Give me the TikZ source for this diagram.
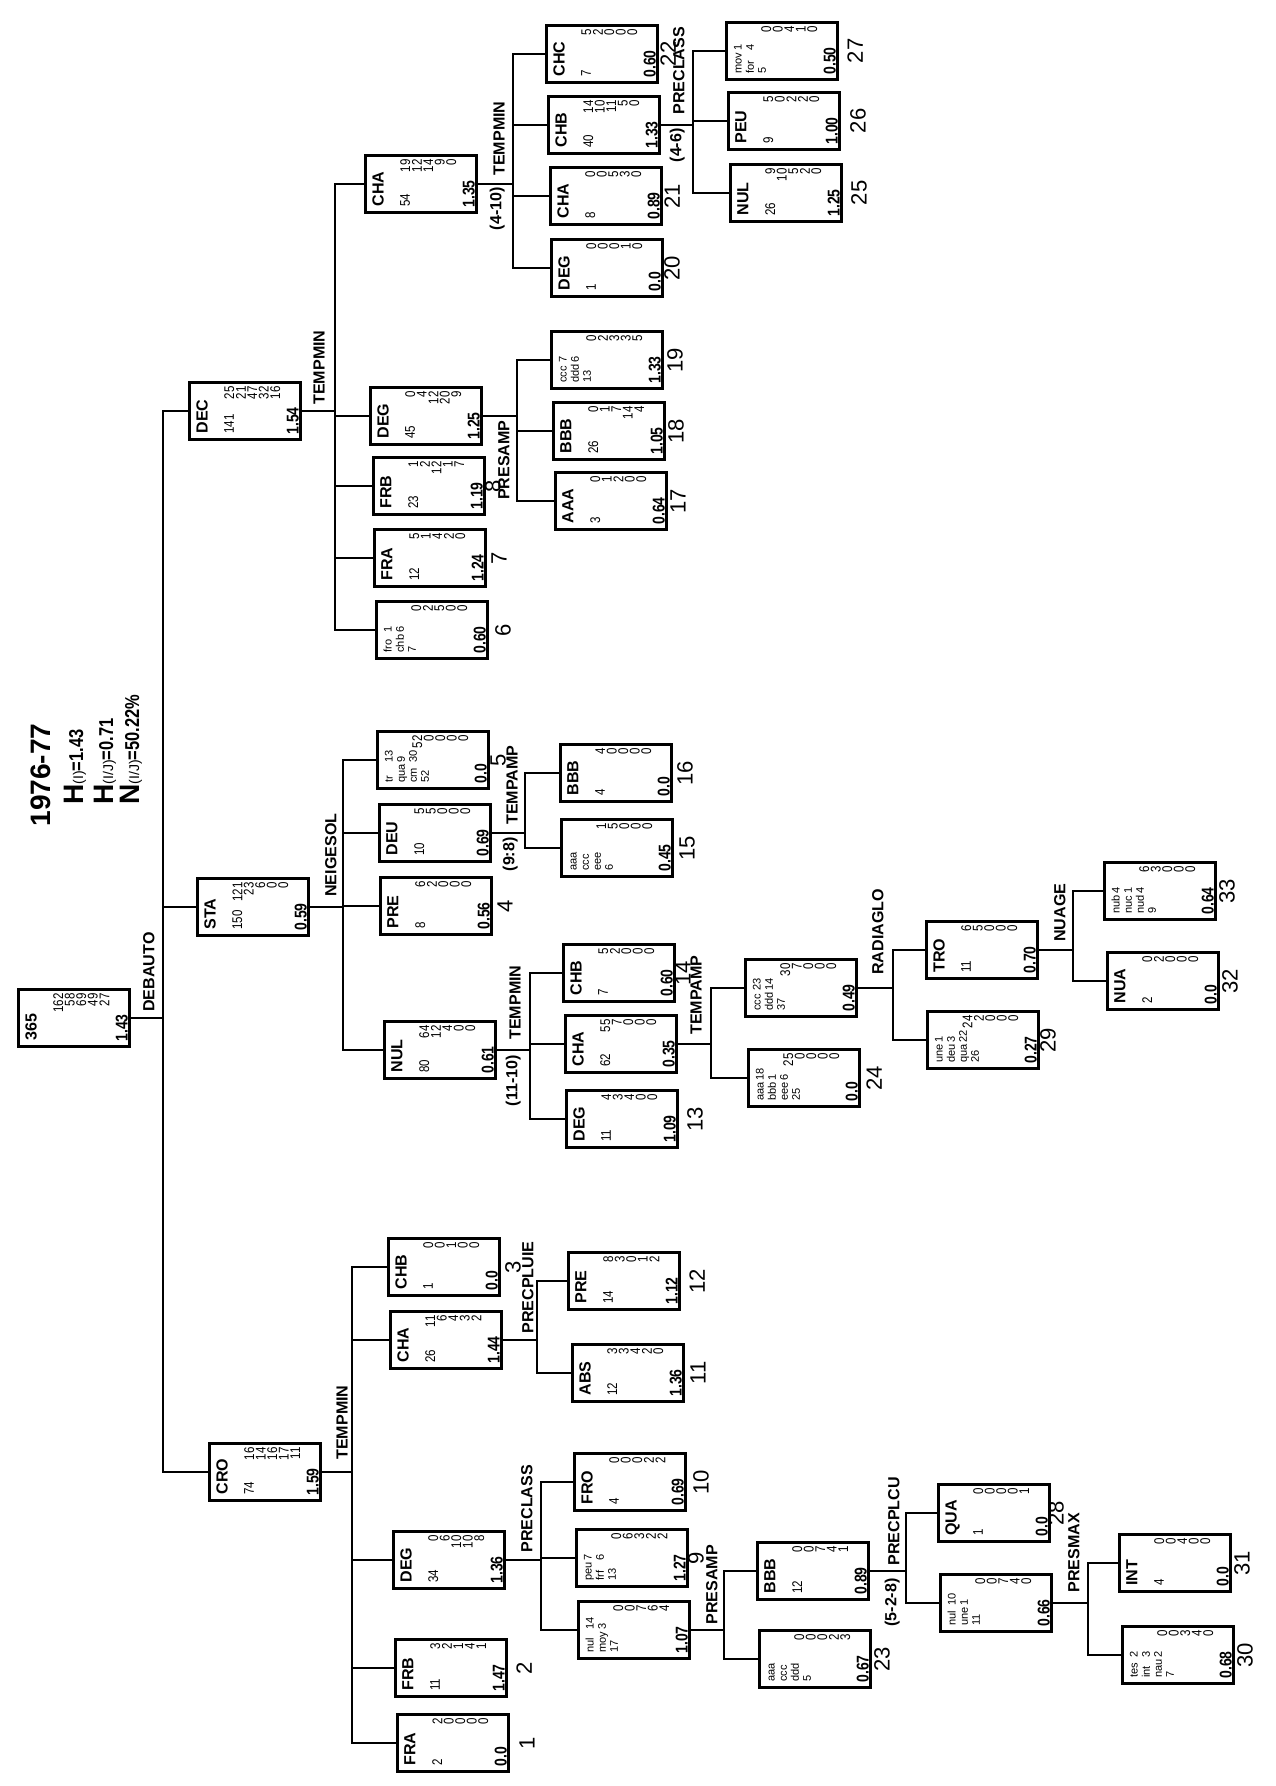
\documentclass[tikz,border=0pt]{standalone}
\usepackage{fontspec}
\setmainfont{Liberation Sans}
\newfontfamily\condfont{Liberation Sans}[FakeStretch=0.82]
\usetikzlibrary{calc}
\tikzset{
  cbox/.style    ={draw,line width=1.4pt,minimum width=1.95cm,minimum height=1cm,inner sep=0pt},
  wire/.style    ={line width=1.4pt},
  clab/.style    ={rotate=90,anchor=north west,inner sep=0pt,font=\bfseries\fontsize{8}{8}\selectfont},
  ccnt/.style    ={rotate=90,anchor=north west,inner sep=0pt,font=\condfont\fontsize{7}{7}\selectfont},
  cnum/.style    ={rotate=90,anchor=east,inner sep=0pt,font=\condfont\fontsize{7}{7}\selectfont},
  cent/.style    ={rotate=90,anchor=south west,inner sep=0pt,font=\condfont\bfseries\fontsize{8.5}{8.5}\selectfont},
  cidx/.style    ={rotate=90,inner sep=0pt,font=\fontsize{11}{11}\selectfont},
  splitup/.style ={rotate=90,anchor=south west,inner sep=0pt,font=\bfseries\fontsize{8}{8}\selectfont},
  splitdn/.style ={rotate=90,anchor=south east,inner sep=0pt,font=\bfseries\fontsize{8}{8}\selectfont},
  title/.style   ={rotate=90,anchor=west,inner sep=0pt,font=\bfseries\fontsize{14}{14}\selectfont},
  hline/.style   ={rotate=90,anchor=west,inner sep=0pt},
}
% compound labels: several classes stacked in one box
\newcommand{\ml}[1]{{\mdseries\fontsize{5.5}{6}\selectfont\begin{tabular}{@{}l@{\,}l@{}}#1\end{tabular}}}

\begin{document}
\begin{tikzpicture}[x=0.0175cm,y=-0.0175cm]
\useasboundingbox (0,0) rectangle (1275,1786);

% name / x / y / label / count / class counts / entropy
\newcommand{\cbx}[7]{%
  \node[cbox] (#1) at (#2,#3) {};
  \node[clab] (#1-l) at ($(#1.south west)+(8,-7)$) {#4};
  \node[ccnt] (#1-n) at ($(#1.south west)+(36,-7)$) {#5};
  \foreach \v [count=\k] in {#6}
    \node[cnum] (#1-v\k) at ($(#1.north west)+(30+11.5*\k,5)$) {\v};
  \node[cent] (#1-e) at ($(#1.south east)+(-3,-6)$) {#7};
}

% title
\node[title] (yr) at (41,827) {1976-77};
\node[hline] (hI) at (75,805) {{\bfseries\fontsize{14}{14}\selectfont H}{\fontsize{7}{7}\selectfont(I)}{\condfont\bfseries\fontsize{10}{10}\selectfont=1.43}};
\node[hline] (hIJ) at (105,805) {{\bfseries\fontsize{14}{14}\selectfont H}{\fontsize{7}{7}\selectfont(I/J)}{\condfont\bfseries\fontsize{10}{10}\selectfont=0.71}};
\node[hline] (nIJ) at (131,805) {{\bfseries\fontsize{14}{14}\selectfont N}{\fontsize{7}{7}\selectfont(I/J)}{\condfont\bfseries\fontsize{10}{10}\selectfont=50.22\%}};

\cbx{root}{74}{1018}{365}{}{162,58,69,49,27}{1.43}
\cbx{dec}{245}{411}{DEC}{141}{25,21,47,32,16}{1.54}
\cbx{sta}{253}{907}{STA}{150}{121,23,6,0,0}{0.59}
\cbx{cro}{265}{1472}{CRO}{74}{16,14,16,17,11}{1.59}

% DEC branch
\cbx{decCha}{421}{184}{CHA}{54}{19,12,14,9,0}{1.35}
\cbx{decDeg}{426}{416}{DEG}{45}{0,4,12,20,9}{1.25}
\cbx{decFrb}{429}{486}{FRB}{23}{1,2,12,1,7}{1.19}
\cbx{decFra}{430}{558}{FRA}{12}{5,1,4,2,0}{1.24}
\cbx{decFro}{432}{630}{\ml{fro&1\\chb&6\\7}}{}{0,2,5,0,0}{0.60}
\cbx{chaChc}{602}{54}{CHC}{7}{5,2,0,0,0}{0.60}
\cbx{chaChb}{604}{125}{CHB}{40}{14,10,11,5,0}{1.33}
\cbx{chaCha}{606}{196}{CHA}{8}{0,0,5,3,0}{0.89}
\cbx{chaDeg}{607}{268}{DEG}{1}{0,0,0,1,0}{0.0}
\cbx{chbMov}{782}{51}{\ml{mov&1\\for&4\\5}}{}{0,0,4,1,0}{0.50}
\cbx{chbPeu}{784}{121}{PEU}{9}{5,0,2,2,0}{1.00}
\cbx{chbNul}{786}{193}{NUL}{26}{9,10,5,2,0}{1.25}
\cbx{degCcc}{607}{360}{\ml{ccc&7\\ddd&6\\13}}{}{0,2,3,3,5}{1.33}
\cbx{degBbb}{609}{431}{BBB}{26}{0,1,7,14,4}{1.05}
\cbx{degAaa}{611}{501}{AAA}{3}{0,1,2,0,0}{0.64}

% STA branch
\cbx{staTr}{433}{760}{\ml{tr&13\\qua&9\\cm&30\\52}}{}{52,0,0,0,0}{0.0}
\cbx{staDeu}{435}{833}{DEU}{10}{5,5,0,0,0}{0.69}
\cbx{staPre}{436}{906}{PRE}{8}{6,2,0,0,0}{0.56}
\cbx{staNul}{440}{1050}{NUL}{80}{64,12,4,0,0}{0.61}
\cbx{deuBbb}{616}{773}{BBB}{4}{4,0,0,0,0}{0.0}
\cbx{deuAaa}{617}{848}{\ml{aaa\\ccc\\eee\\6}}{}{1,5,0,0,0}{0.45}
\cbx{nulChb}{619}{973}{CHB}{7}{5,2,0,0,0}{0.60}
\cbx{nulCha}{621}{1044}{CHA}{62}{55,7,0,0,0}{0.35}
\cbx{nulDeg}{622}{1119}{DEG}{11}{4,3,4,0,0}{1.09}
\cbx{ampCcc}{801}{988}{\ml{ccc&23\\ddd&14\\37}}{}{30,7,0,0,0}{0.49}
\cbx{ampAaa}{804}{1078}{\ml{aaa&18\\bbb&1\\eee&6\\25}}{}{25,0,0,0,0}{0.0}
\cbx{radTro}{982}{950}{TRO}{11}{6,5,0,0,0}{0.70}
\cbx{radUne}{983}{1040}{\ml{une&1\\deu&3\\qua&22\\26}}{}{24,2,0,0,0}{0.27}
\cbx{nuaNub}{1160}{891}{\ml{nub&4\\nuc&1\\nud&4\\9}}{}{6,3,0,0,0}{0.64}
\cbx{nuaNua}{1163}{981}{NUA}{2}{0,2,0,0,0}{0.0}

% CRO branch
\cbx{croChb}{444}{1267}{CHB}{1}{0,0,1,0,0}{0.0}
\cbx{croCha}{446}{1340}{CHA}{26}{11,6,4,3,2}{1.44}
\cbx{croDeg}{449}{1560}{DEG}{34}{0,6,10,10,8}{1.36}
\cbx{croFrb}{451}{1668}{FRB}{11}{3,2,1,4,1}{1.47}
\cbx{croFra}{453}{1743}{FRA}{2}{2,0,0,0,0}{0.0}
\cbx{pluPre}{624}{1281}{PRE}{14}{8,3,0,1,2}{1.12}
\cbx{pluAbs}{628}{1373}{ABS}{12}{3,3,4,2,0}{1.36}
\cbx{clsFro}{630}{1482}{FRO}{4}{0,0,0,2,2}{0.69}
\cbx{clsPeu}{632}{1558}{\ml{peu&7\\frf&6\\13}}{}{0,6,3,2,2}{1.27}
\cbx{clsNul}{634}{1630}{\ml{nul&14\\moy&3\\17}}{}{0,0,7,6,4}{1.07}
\cbx{ampBbb}{813}{1571}{BBB}{12}{0,0,7,4,1}{0.89}
\cbx{ampAaa2}{815}{1659}{\ml{aaa\\ccc\\ddd\\5}}{}{0,0,0,2,3}{0.67}
\cbx{cuQua}{994}{1513}{QUA}{1}{0,0,0,0,1}{0.0}
\cbx{cuNul}{996}{1603}{\ml{nul&10\\une&1\\11}}{}{0,0,7,4,0}{0.66}
\cbx{maxInt}{1175}{1563}{INT}{4}{0,0,4,0,0}{0.0}
\cbx{maxTes}{1178}{1655}{\ml{tes&2\\int&3\\nau&2\\7}}{}{0,0,3,4,0}{0.68}

% splits: parent / bus x / children
\foreach \p/\bx/\kids in {
    root/163/{dec,sta,cro},
    dec/335/{decCha,decDeg,decFrb,decFra,decFro},
    decCha/513/{chaChc,chaChb,chaCha,chaDeg},
    chaChb/693/{chbMov,chbPeu,chbNul},
    decDeg/517/{degCcc,degBbb,degAaa},
    sta/343/{staTr,staDeu,staPre,staNul},
    staDeu/525/{deuBbb,deuAaa},
    staNul/530/{nulChb,nulCha,nulDeg},
    nulCha/711/{ampCcc,ampAaa},
    ampCcc/893/{radTro,radUne},
    radTro/1073/{nuaNub,nuaNua},
    cro/352/{croChb,croCha,croDeg,croFrb,croFra},
    croCha/537/{pluPre,pluAbs},
    croDeg/541/{clsFro,clsPeu,clsNul},
    clsNul/724/{ampBbb,ampAaa2},
    ampBbb/906/{cuQua,cuNul},
    cuNul/1088/{maxInt,maxTes}}
{
  \coordinate (bx) at (\bx,0);
  \coordinate (j-\p) at (\p.east -| bx);
  \draw[wire] (\p.east) -- (j-\p);
  \foreach \c in \kids
    \draw[wire] (j-\p) |- (\c.west);
}

% split variables
\foreach \p/\dx/\dy/\t in {root/-8/-6/DEBAUTO, dec/-10/-6/TEMPMIN, decCha/-8/-8/TEMPMIN,
    chaChb/-8/-10/PRECLASS, sta/-6/-10/NEIGESOL, staDeu/-7/-8/TEMPAMP, staNul/-9/-10/TEMPMIN,
    nulCha/-9/-9/TEMPAMP, ampCcc/-9/-13/RADIAGLO, radTro/-7/-8/NUAGE, cro/-4/-12/TEMPMIN,
    croCha/-3/-6/PRECPLUIE, croDeg/-8/-7/PRECLASS, clsNul/-6/-5/PRESAMP, ampBbb/-6/-5/PRECPLCU,
    cuNul/-8/-10/PRESMAX}
  \node[splitup] (s-\p) at ($(j-\p)+(\dx,\dy)$) {\t};
\foreach \p/\dx/\dy/\t in {decCha/-8/3/{(4-10)}, chaChb/-8/3/{(4-6)}, decDeg/-7/4/PRESAMP,
    staDeu/-7/4/{(9:8)}, staNul/-9/5/{(11-10)}, ampBbb/-6/7/{(5-2-8)}}
  \node[splitdn] (t-\p) at ($(j-\p)+(\dx,\dy)$) {\t};

% leaf numbers
\foreach \b/\n/\dx in {decFrb/8/7, decFra/7/12, decFro/6/14, chaChc/22/9, chaCha/21/9,
    chaDeg/20/8, chbMov/27/16, chbPeu/26/17, chbNul/25/16, degCcc/19/11, degBbb/18/10,
    degAaa/17/10, staTr/5/8, staPre/4/12, deuBbb/16/12, deuAaa/15/13, nulChb/14/7,
    nulDeg/13/16, ampAaa/24/13, radUne/29/8, nuaNub/33/10, nuaNua/32/10, croChb/3/12,
    croFrb/2/16, croFra/1/17, pluPre/12/16, pluAbs/11/13, clsFro/10/14, clsPeu/9/7,
    ampAaa2/23/10, cuQua/28/5, maxInt/31/10, maxTes/30/10}
  \node[cidx] (i\n) at ($(\b.east)+(\dx,0)$) {\n};
\end{tikzpicture}
\end{document}
